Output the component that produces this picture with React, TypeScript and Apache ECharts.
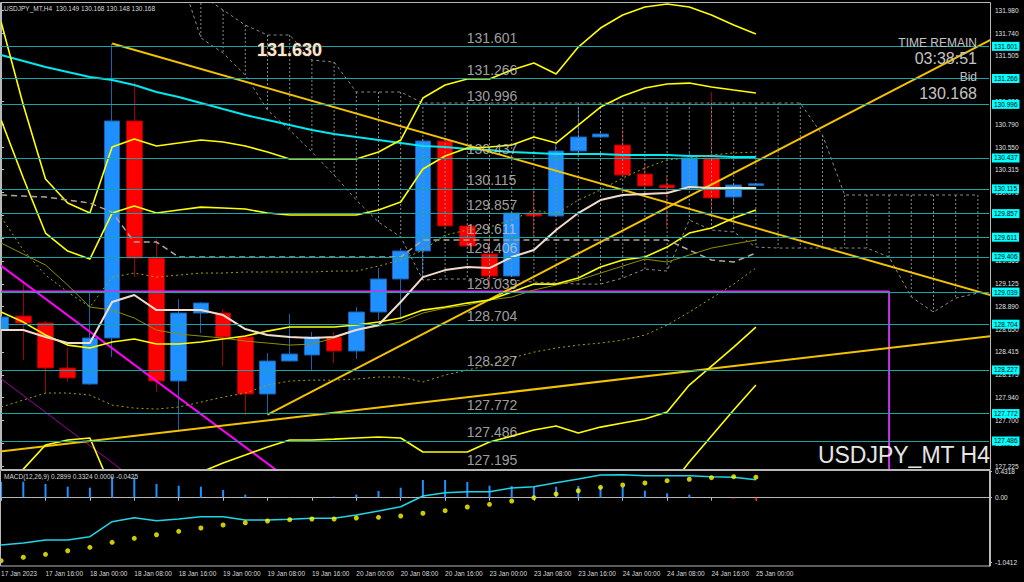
import React, { useEffect, useRef } from 'react';
import * as echarts from 'echarts';

// ---------- categories (H4 bars) ----------
const timeLabels = [
  '17 Jan 2023', '17 Jan 12:00', '17 Jan 16:00', '17 Jan 20:00', '18 Jan 00:00', '18 Jan 04:00',
  '18 Jan 08:00', '18 Jan 12:00', '18 Jan 16:00', '18 Jan 20:00', '19 Jan 00:00', '19 Jan 04:00',
  '19 Jan 08:00', '19 Jan 12:00', '19 Jan 16:00', '19 Jan 20:00', '20 Jan 00:00', '20 Jan 04:00',
  '20 Jan 08:00', '20 Jan 12:00', '20 Jan 16:00', '20 Jan 20:00', '23 Jan 00:00', '23 Jan 04:00',
  '23 Jan 08:00', '23 Jan 12:00', '23 Jan 16:00', '23 Jan 20:00', '24 Jan 00:00', '24 Jan 04:00',
  '24 Jan 08:00', '24 Jan 12:00', '24 Jan 16:00', '24 Jan 20:00', '25 Jan 00:00',
];
const futureLabels = [
  '25 Jan 04:00', '25 Jan 08:00', '25 Jan 12:00', '25 Jan 16:00', '25 Jan 20:00',
  '26 Jan 00:00', '26 Jan 04:00', '26 Jan 08:00', '26 Jan 12:00', '26 Jan 16:00',
];

// ---------- candles: [open, close, low, high] ----------
const candles = [
  [128.643, 128.779, 128.362, 128.852],
  [128.789, 128.716, 128.330, 129.133],
  [128.716, 128.247, 127.986, 128.737],
  [128.247, 128.143, 128.101, 128.455],
  [128.080, 128.560, 128.070, 129.039],
  [128.560, 130.823, 128.362, 131.630],
  [130.823, 129.394, 129.196, 131.229],
  [129.394, 128.112, 127.997, 129.592],
  [128.112, 128.820, 127.580, 128.966],
  [128.820, 128.925, 128.612, 128.935],
  [128.820, 128.570, 128.268, 128.862],
  [128.570, 127.976, 127.757, 128.581],
  [127.976, 128.320, 127.760, 128.403],
  [128.320, 128.393, 128.310, 128.810],
  [128.383, 128.570, 128.226, 128.622],
  [128.570, 128.424, 128.299, 128.622],
  [128.424, 128.831, 128.341, 128.883],
  [128.831, 129.175, 128.747, 129.290],
  [129.175, 129.467, 128.758, 129.498],
  [129.467, 130.614, 129.165, 130.635],
  [130.614, 129.728, 129.717, 130.625],
  [129.728, 129.519, 129.498, 129.749],
  [129.436, 129.206, 129.071, 129.634],
  [129.206, 129.863, 129.196, 129.874],
  [129.863, 129.832, 129.634, 130.103],
  [129.832, 130.510, 129.820, 130.572],
  [130.510, 130.656, 130.500, 130.969],
  [130.656, 130.687, 130.645, 130.720],
  [130.572, 130.259, 130.259, 130.729],
  [130.270, 130.145, 130.103, 130.385],
  [130.155, 130.124, 129.717, 130.259],
  [130.124, 130.437, 130.124, 130.489],
  [130.437, 130.020, 129.874, 131.125],
  [130.030, 130.155, 129.967, 130.180],
  [130.149, 130.168, 130.148, 130.168],
];

// ---------- indicator lines (one value per bar, from bar 0) ----------
const bandUpper3 = [131.855, 130.989, 130.217, 129.967, 129.863, 130.551, 130.635, 130.562, 130.593, 130.624, 130.603, 130.562, 130.499, 130.426, 130.426, 130.426, 130.426, 130.499, 130.624, 131.062, 131.198, 131.260, 131.260, 131.354, 131.427, 131.312, 131.594, 131.792, 131.928, 132.011, 132.042, 132.011, 131.928, 131.823, 131.729];
const bandUpper2 = [130.833, 130.228, 129.654, 129.467, 129.383, 129.863, 129.936, 129.863, 129.894, 129.925, 129.915, 129.905, 129.863, 129.842, 129.842, 129.842, 129.842, 129.894, 129.978, 130.322, 130.457, 130.541, 130.551, 130.572, 130.655, 130.593, 130.780, 130.968, 131.083, 131.166, 131.208, 131.218, 131.177, 131.145, 131.114];
const bandMid = [128.830, 128.726, 128.591, 128.486, 128.455, 128.518, 128.549, 128.497, 128.497, 128.518, 128.549, 128.580, 128.632, 128.674, 128.674, 128.674, 128.695, 128.726, 128.768, 128.851, 128.883, 128.924, 128.956, 129.039, 129.122, 129.122, 129.185, 129.300, 129.373, 129.404, 129.508, 129.654, 129.706, 129.811, 129.894];
const bandLower2 = [127.079, 127.193, 127.444, 127.496, 127.517, 126.974, 126.870, 126.922, 127.026, 127.162, 127.256, 127.339, 127.423, 127.496, 127.496, 127.506, 127.517, 127.527, 127.517, 127.371, 127.371, 127.371, 127.475, 127.537, 127.600, 127.642, 127.569, 127.631, 127.673, 127.715, 127.788, 128.069, 128.267, 128.465, 128.674];
const bandLower3Tail = [126.714, 126.974, 127.266, 127.537, 127.809, 128.069]; // bars 29..34
const oliveMA = [129.550, 129.435, 129.321, 129.112, 128.883, 128.851, 128.768, 128.643, 128.601, 128.580, 128.559, 128.528, 128.507, 128.486, 128.497, 128.559, 128.643, 128.684, 128.726, 128.820, 128.872, 128.903, 128.956, 128.987, 129.060, 129.112, 129.164, 129.237, 129.310, 129.383, 129.352, 129.425, 129.498, 129.540, 129.581];
const envUpper = [129.821, 129.477, 129.216, 129.039, 128.883, 129.195, 129.237, 129.195, 129.216, 129.237, 129.237, 129.248, 129.248, 129.248, 129.248, 129.258, 129.258, 129.310, 129.373, 129.477, 129.633, 129.686, 129.717, 129.790, 129.894, 129.852, 129.998, 130.103, 130.228, 130.332, 130.416, 130.436, 130.468, 130.489, 130.499];
const envLower = [127.840, 127.913, 127.986, 127.986, 127.965, 127.861, 127.829, 127.819, 127.840, 127.892, 127.944, 127.986, 128.069, 128.111, 128.121, 128.121, 128.132, 128.153, 128.153, 128.101, 128.173, 128.226, 128.278, 128.351, 128.413, 128.455, 128.486, 128.507, 128.538, 128.591, 128.695, 128.830, 128.976, 129.122, 129.289];
const tenkan = [128.643, 128.643, 128.570, 128.507, 128.507, 128.935, 129.008, 128.851, 128.851, 128.851, 128.799, 128.653, 128.591, 128.570, 128.559, 128.570, 128.643, 128.695, 128.935, 129.195, 129.268, 129.300, 129.289, 129.404, 129.477, 129.686, 129.863, 129.998, 130.051, 130.061, 130.071, 130.134, 130.124, 130.124, 130.124];
const kijun = [130.051, 130.040, 130.030, 129.998, 129.967, 129.873, 129.560, 129.560, 129.404, 129.404, 129.404, 129.404, 129.404, 129.404, 129.404, 129.404, 129.404, 129.404, 129.404, 129.581, 129.581, 129.581, 129.581, 129.581, 129.581, 129.581, 129.581, 129.581, 129.581, 129.581, 129.581, 129.477, 129.373, 129.352, 129.446];
const slowMA = [131.510, 131.448, 131.385, 131.333, 131.281, 131.250, 131.198, 131.125, 131.072, 131.010, 130.947, 130.885, 130.833, 130.780, 130.728, 130.687, 130.655, 130.624, 130.593, 130.562, 130.551, 130.530, 130.520, 130.499, 130.489, 130.478, 130.478, 130.478, 130.468, 130.468, 130.468, 130.457, 130.457, 130.447, 130.447];
// Ichimoku cloud spans (shifted forward)
const spanA = [132.136, 131.980, 131.823, 131.719, 131.719, 131.458, 131.437, 131.125, 131.125, 131.125, 131.010, 131.010, 131.010, 131.010, 131.010, 131.010, 131.010, 131.010, 131.010, 131.010, 131.010, 131.010, 131.010, 131.010, 131.010, 131.010, 131.010, 131.010, 130.676, 130.051, 130.051, 130.051, 130.051, 130.051, 130.051, 130.051]; // bars 9..44
const spanB = [132.397, 131.688, 131.531, 131.302, 130.937, 130.728, 130.499, 130.259, 129.998, 129.769, 129.613, 129.164, 129.175, 129.175, 129.185, 129.164, 129.143, 129.133, 129.122, 129.122, 129.185, 129.279, 129.258, 129.790, 129.686, 129.665, 129.508, 129.498, 129.498, 129.498, 129.498, 129.498, 129.404, 128.987, 128.830, 128.976, 129.029]; // bars 8..44

// ---------- drawn objects ----------
const levels = [131.601, 131.266, 130.996, 130.437, 130.115, 129.857, 129.611, 129.406, 129.039, 128.704, 128.227, 127.772, 127.486, 127.195];
const bidPrice = 130.168;
const trendDown = [[5, 131.63], [45, 128.978]];
const trendUp = [[12, 127.76], [45, 131.721]];
const trendFlat = [[-1, 127.351], [45, 128.59]];
const magentaThick = [[-1, 129.485], [13, 127.079]];
const magentaThin = [[-1, 128.31], [6, 127.087]];
const violetLevel = [[-1, 129.045], [40, 129.045], [40, 126.9]];

// ---------- price scale ----------
const priceTicks = [131.98, 131.74, 131.505, 131.27, 131.03, 130.79, 130.55, 130.315, 130.075, 129.84, 129.6, 129.365, 129.125, 128.89, 128.65, 128.415, 128.175, 127.94, 127.7, 127.465, 127.225];

// ---------- MACD ----------
const macdHist = [0.259, 0.259, 0.222, 0.178, 0.162, 0.340, 0.330, 0.222, 0.194, 0.178, 0.125, 0.049, 0.011, -0.005, 0.006, 0.018, 0.049, 0.108, 0.162, 0.286, 0.286, 0.254, 0.194, 0.189, 0.178, 0.178, 0.189, 0.178, 0.178, 0.113, 0.071, 0.049, 0.006, -0.015, -0.0425];
const macdMain = [-0.765, -0.733, -0.684, -0.684, -0.631, -0.388, -0.324, -0.372, -0.345, -0.307, -0.307, -0.361, -0.361, -0.350, -0.333, -0.333, -0.280, -0.215, -0.146, 0.028, 0.081, 0.097, 0.097, 0.157, 0.178, 0.243, 0.303, 0.367, 0.372, 0.356, 0.356, 0.356, 0.340, 0.330, 0.2899];
const macdSignal = [-1.019, -0.964, -0.916, -0.858, -0.803, -0.722, -0.657, -0.599, -0.544, -0.490, -0.442, -0.405, -0.377, -0.356, -0.345, -0.345, -0.328, -0.317, -0.296, -0.252, -0.210, -0.150, -0.107, -0.053, 0.000, 0.060, 0.113, 0.168, 0.206, 0.238, 0.275, 0.298, 0.324, 0.340, 0.3324];
const macdTicks = [0.4318, 0, -1.0412];

const NARROW = "'Liberation Sans Narrow', 'Liberation Sans', Arial, sans-serif";
const SANS = "'Liberation Sans', Arial, sans-serif";
const GOLD = '#f3c300';

function withIndex(arr: number[], start = 0) {
  return arr.map((v, i) => [i + start, v]);
}

function lineSeries(data: any[], color: string, width: number, type: any = 'solid', z = 4) {
  return {
    type: 'line', xAxisIndex: 1, yAxisIndex: 0, data, symbol: 'none', z, silent: true,
    clip: true, lineStyle: { color, width, type }, emphasis: { disabled: true },
  };
}

export default function App() {
  const ref = useRef<HTMLDivElement>(null);
  useEffect(() => {
    if (!ref.current) return;
    const chart = echarts.init(ref.current, null, { renderer: 'svg' });
    const cats = [...timeLabels, ...futureLabels];
    const N = cats.length;
    const nReal = timeLabels.length;
    const yMax = 132.053;
    const hatchData = spanA.map((a, i) => [i + 9, a, spanB[i + 1]]);
    const showEven = (i: number) => i % 2 === 0 && i < nReal;

    const option: any = {
      animation: false,
      backgroundColor: '#000000',
      textStyle: { fontFamily: SANS },
      grid: [
        { left: -10, width: 999, top: 3, height: 466, outerBoundsMode: 'none' },
        { left: -10, width: 999, top: 471, height: 95, outerBoundsMode: 'none' },
      ],
      xAxis: [
        { type: 'category', gridIndex: 0, data: cats, boundaryGap: true, show: false },
        { type: 'value', gridIndex: 0, min: -0.5, max: N - 0.5, show: false },
        {
          type: 'category', gridIndex: 1, data: cats, boundaryGap: true,
          axisLine: { show: true, lineStyle: { color: '#bdbdbd' } },
          axisTick: { show: true, interval: showEven, alignWithLabel: true, length: 3, lineStyle: { color: '#bdbdbd' } },
          axisLabel: { interval: showEven, color: '#d8d8d8', fontSize: 6.5, align: 'left', margin: 4, fontFamily: SANS },
        },
      ],
      yAxis: [
        {
          type: 'value', gridIndex: 0, position: 'right', min: 127.194, max: yMax,
          splitLine: { show: false },
          axisLine: { show: true, lineStyle: { color: '#bdbdbd' } },
          axisTick: { show: true, length: 3, customValues: priceTicks, lineStyle: { color: '#bdbdbd' } },
          axisLabel: { customValues: priceTicks, formatter: (v: number) => v.toFixed(3), color: '#e0e0e0', fontSize: 6.5, margin: 6, fontFamily: SANS },
        },
        {
          type: 'value', gridIndex: 1, position: 'right', min: -1.105, max: 0.432,
          splitLine: { show: false },
          axisLine: { show: true, lineStyle: { color: '#bdbdbd' } },
          axisTick: { show: true, length: 3, customValues: macdTicks, lineStyle: { color: '#bdbdbd' } },
          axisLabel: { customValues: macdTicks, formatter: (v: number) => (v === 0 ? '0.00' : v.toFixed(4)), color: '#e0e0e0', fontSize: 6.5, margin: 6, fontFamily: SANS },
        },
      ],
      series: [
        {
          type: 'candlestick', xAxisIndex: 0, yAxisIndex: 0, data: candles, barWidth: 16, z: 1, silent: true,
          itemStyle: { color: '#1e90ff', color0: '#ff0000', borderColor: '#1a5fb0', borderColor0: '#a00000', borderWidth: 1 },
        },
        {
          type: 'custom', xAxisIndex: 1, yAxisIndex: 0, z: 2, silent: true, data: hatchData,
          encode: { x: 0, y: [1, 2] },
          renderItem: (params: any, api: any) => {
            const x = api.value(0);
            const a = Math.min(api.value(1), yMax);
            const b = Math.min(api.value(2), yMax);
            const p1 = api.coord([x, a]);
            const p2 = api.coord([x, b]);
            return {
              type: 'line', shape: { x1: p1[0], y1: p1[1], x2: p2[0], y2: p2[1] },
              style: { stroke: '#8a8a8a', lineWidth: 1, lineDash: [2, 2] },
            };
          },
        },
        lineSeries(withIndex(spanA, 9), '#8a8a8a', 1, [3, 3], 2),
        lineSeries(withIndex(spanB, 8), '#8a8a8a', 1, [3, 3], 2),
        {
          ...lineSeries(withIndex(slowMA), '#00e8f0', 2, 'solid', 3),
          markLine: {
            silent: true, symbol: ['none', 'none'], animation: false, precision: 3,
            lineStyle: { color: '#17a6a6', width: 1, type: 'solid' },
            label: {
              show: true, position: 'end', distance: 3,
              formatter: (p: any) => Number(p.value).toFixed(3),
              backgroundColor: '#00ffff', color: '#000000', fontSize: 6.5, padding: [1, 2, 1, 2], fontFamily: SANS,
            },
            emphasis: { disabled: true },
            data: [
              ...levels.map((v) => (v === 127.195 ? { yAxis: v, label: { show: false } } : { yAxis: v })),
              { yAxis: bidPrice, lineStyle: { opacity: 0 }, label: { backgroundColor: '#ffffff', color: '#000000' } },
            ],
          },
        },
        lineSeries(violetLevel, '#c834f0', 2),
        lineSeries(magentaThick, '#ff00ff', 2),
        lineSeries(magentaThin, '#a000a0', 1),
        lineSeries(trendDown, GOLD, 2),
        lineSeries(trendUp, GOLD, 2),
        lineSeries(trendFlat, GOLD, 2),
        lineSeries(withIndex(oliveMA), '#8f8f00', 1),
        lineSeries(withIndex(envUpper), '#a3a300', 1, [2, 3]),
        lineSeries(withIndex(envLower), '#a3a300', 1, [2, 3]),
        lineSeries(withIndex(bandUpper3), '#ffff00', 1.6),
        lineSeries(withIndex(bandUpper2), '#ffff00', 1.6),
        lineSeries(withIndex(bandMid), '#ffff00', 1.6),
        lineSeries(withIndex(bandLower2), '#ffff00', 1.6),
        lineSeries(withIndex(bandLower3Tail, 29), '#ffff00', 1.6),
        lineSeries(withIndex(kijun), '#b4a596', 1.5, [6, 4]),
        lineSeries(withIndex(tenkan), '#f2dccb', 2),
        {
          type: 'scatter', xAxisIndex: 1, yAxisIndex: 0, z: 6, silent: true,
          data: levels.map((v) => [21, v]), symbolSize: 1, itemStyle: { color: 'transparent' },
          label: {
            show: true, position: [0, -15], formatter: (p: any) => p.value[1].toFixed(3),
            color: '#c8c8c8', fontSize: 14, fontFamily: NARROW,
          },
        },
        // MACD panel
        {
          type: 'bar', xAxisIndex: 2, yAxisIndex: 1, barWidth: 2, silent: true, z: 2,
          data: macdHist.map((v) => ({ value: v, itemStyle: { color: v >= 0 ? '#1e90ff' : '#ff0000' } })),
          markLine: {
            silent: true, symbol: ['none', 'none'], label: { show: false },
            lineStyle: { color: '#b0b0b0', type: [2, 2], width: 1 }, data: [{ yAxis: 0 }],
          },
        },
        {
          type: 'line', xAxisIndex: 2, yAxisIndex: 1, data: macdMain, symbol: 'none', silent: true, z: 3,
          lineStyle: { color: '#1fd6e6', width: 1.5 },
        },
        {
          type: 'scatter', xAxisIndex: 2, yAxisIndex: 1, data: macdSignal, symbolSize: 5, silent: true, z: 4,
          itemStyle: { color: '#ffff00' },
        },
      ],
      graphic: [
        { type: 'rect', shape: { x: 0.5, y: 2.5, width: 990, height: 467 }, style: { fill: 'none', stroke: '#b8b8b8', lineWidth: 1 }, silent: true, z: 10 },
        { type: 'rect', shape: { x: 0.5, y: 470.5, width: 990, height: 95.5 }, style: { fill: 'none', stroke: '#b8b8b8', lineWidth: 1 }, silent: true, z: 10 },
        { type: 'text', x: 4, y: 8, silent: true, z: 11, style: { text: 'USDJPY_MT,H4  130.149 130.168 130.148 130.168', fill: '#d8d8d8', fontSize: 6.5, fontFamily: SANS, verticalAlign: 'middle' } },
        { type: 'text', x: 4, y: 476, silent: true, z: 11, style: { text: 'MACD(12,26,9) 0.2899 0.3324 0.0000 -0.0425', fill: '#d8d8d8', fontSize: 6.5, fontFamily: SANS, verticalAlign: 'middle' } },
        { type: 'text', x: 257, y: 50, silent: true, z: 11, style: { text: '131.630', fill: '#fbe6d2', fontSize: 18, fontWeight: 'bold', fontFamily: SANS, verticalAlign: 'middle', stroke: '#3a2a1a', lineWidth: 1 } },
        { type: 'text', x: 977, y: 43, silent: true, z: 11, style: { text: 'TIME REMAIN', fill: '#c4c4c4', fontSize: 12, fontFamily: NARROW, align: 'right', verticalAlign: 'middle' } },
        { type: 'text', x: 977, y: 58, silent: true, z: 11, style: { text: '03:38:51', fill: '#c4c4c4', fontSize: 16, fontFamily: NARROW, align: 'right', verticalAlign: 'middle' } },
        { type: 'text', x: 977, y: 77, silent: true, z: 11, style: { text: 'Bid', fill: '#c4c4c4', fontSize: 12, fontFamily: NARROW, align: 'right', verticalAlign: 'middle' } },
        { type: 'text', x: 977, y: 93, silent: true, z: 11, style: { text: '130.168', fill: '#c4c4c4', fontSize: 16, fontFamily: NARROW, align: 'right', verticalAlign: 'middle' } },
        { type: 'text', x: 990, y: 455, silent: true, z: 11, style: { text: 'USDJPY_MT H4', fill: '#e6e6e6', fontSize: 23, fontFamily: SANS, align: 'right', verticalAlign: 'middle' } },
      ],
    };
    chart.setOption(option);
    return () => chart.dispose();
  }, []);

  return (
    <div
      ref={ref}
      style={{ position: 'fixed', left: 0, top: 0, width: 1024, height: 582, background: '#000' }}
    />
  );
}
